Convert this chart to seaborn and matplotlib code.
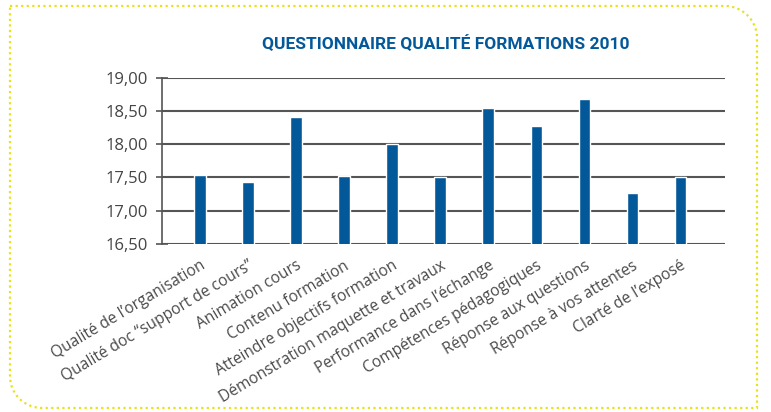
import numpy as np
import pandas as pd
import matplotlib
matplotlib.use('Agg')
import matplotlib.pyplot as plt
import seaborn as sns
from matplotlib.path import Path
from matplotlib.patches import PathPatch
from matplotlib.ticker import FuncFormatter

categories = ["Qualité de l’organisation", "Qualité doc ‘‘support de cours’’",
              "Animation cours", "Contenu formation", "Atteindre objectifs formation",
              "Démonstration maquette et travaux", "Performance dans l’échange",
              "Compétences pédagogiques", "Réponse aux questions",
              "Réponse à vos attentes", "Clarté de l’exposé"]
scores = [17.54, 17.43, 18.41, 17.52, 18.00, 17.50, 18.55, 18.28, 18.68, 17.27, 17.50]
y_ticks = [16.5, 17.0, 17.5, 18.0, 18.5, 19.0]

blue = '#03589a'
grey = '#555555'

sns.set_style('white')
plt.rcParams['font.family'] = ['Open Sans', 'DejaVu Sans']

df = pd.DataFrame({'critere': categories, 'note': scores})

fig = plt.figure(figsize=(7.71, 4.12), dpi=100)
ax = fig.add_axes([0.210, 0.408, 0.730, 0.403])
sns.barplot(data=df, x='critere', y='note', color=blue, saturation=1, width=0.24, ax=ax)

ax.set_ylim(16.5, 19.0)
ax.set_xlim(-0.79, 10.92)
ax.set_yticks(y_ticks)
ax.yaxis.set_major_formatter(FuncFormatter(lambda v, p: '{:.2f}'.format(v).replace('.', ',')))
ax.grid(axis='y', color=grey, linewidth=1.5, zorder=0)
ax.set_axisbelow(True)
for s in ['top', 'right', 'bottom']:
    ax.spines[s].set_visible(False)
ax.spines['left'].set_color(grey)
ax.spines['left'].set_linewidth(1.2)
ax.tick_params(axis='y', direction='inout', length=8, width=1.2, color=grey,
               labelsize=12, labelcolor='#444444', pad=6, left=True)
ax.tick_params(axis='x', length=0, pad=10)
ax.set_xlabel('')
ax.set_ylabel('')
for lab in ax.get_xticklabels():
    lab.set_rotation(31)
    lab.set_ha('right')
    lab.set_rotation_mode('anchor')
    lab.set_fontsize(11.2)
    lab.set_color('#4a4a4a')

fig.text(0.578, 0.895, 'QUESTIONNAIRE QUALITÉ FORMATIONS 2010', ha='center', va='center',
         fontsize=12.5, fontweight='bold', color=blue,
         family=['Roboto', 'DejaVu Sans'])

# yellow dotted frame, rounded top-right and bottom-left corners
W, H = 771.0, 412.0
x0, x1, y0, y1, r = 10, 757, 6, 408, 32
k = 0.5523
pts = [(x0, y0), (x1 - r, y0),
       (x1 - r + k * r, y0), (x1, y0 + r - k * r), (x1, y0 + r),
       (x1, y1), (x0 + r, y1),
       (x0 + r - k * r, y1), (x0, y1 - r + k * r), (x0, y1 - r),
       (x0, y0)]
codes = [Path.MOVETO, Path.LINETO, Path.CURVE4, Path.CURVE4, Path.CURVE4,
         Path.LINETO, Path.LINETO, Path.CURVE4, Path.CURVE4, Path.CURVE4, Path.LINETO]
pts = [(px / W, 1 - py / H) for px, py in pts]
frame = PathPatch(Path(pts, codes), transform=fig.transFigure, fill=False,
                  edgecolor='#e8e21a', linewidth=1.6, linestyle=(0, (1, 1.5)))
fig.patches.append(frame)

fig.savefig('out.png', dpi=100)
